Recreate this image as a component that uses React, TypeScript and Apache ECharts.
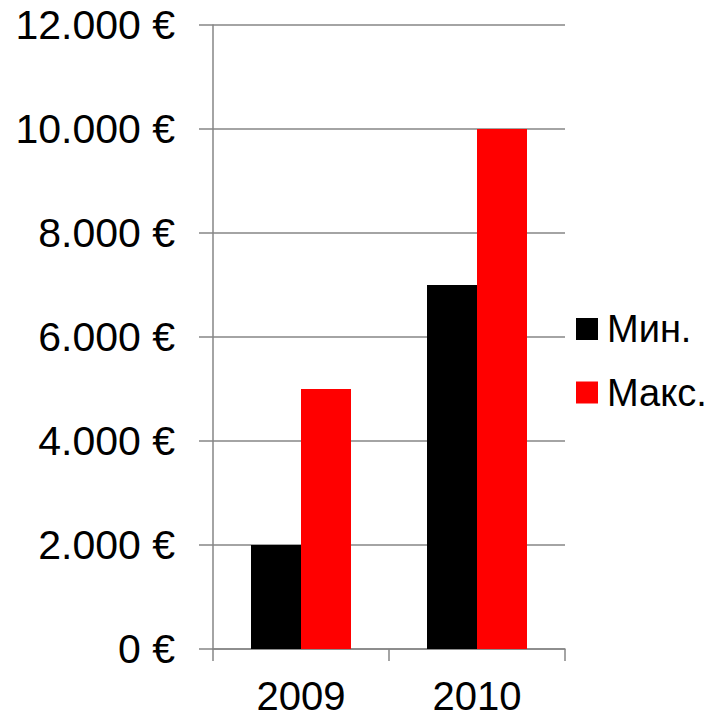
import React, { useEffect, useRef } from "react";
import * as echarts from "echarts";

const categories = ["2009", "2010"];
const minValues = [2000, 7000];
const maxValues = [5000, 10000];
const seriesNames = ["Мин.", "Макс."];

const FONT = "'Liberation Sans', Arial, sans-serif";
const GRAY = "#868686";

function fmt(v: number): string {
  const s = Math.round(v).toString().replace(/\B(?=(\d{3})+(?!\d))/g, ".");
  return s + " €";
}

export default function App() {
  const ref = useRef<HTMLDivElement>(null);
  useEffect(() => {
    if (!ref.current) return;
    const chart = echarts.init(ref.current, undefined, { renderer: "svg" });
    chart.setOption({
      animation: false,
      backgroundColor: "#ffffff",
      textStyle: { fontFamily: FONT },
      grid: { left: 213, right: 150, top: 25, bottom: 69, containLabel: false },
      legend: {
        orient: "vertical",
        left: 576,
        top: 309,
        padding: 0,
        itemWidth: 22,
        itemHeight: 22,
        itemGap: 23.5,
        icon: "rect",
        textStyle: { fontFamily: FONT, fontSize: 38, color: "#000", lineHeight: 40, padding: [0, 0, 0, 4] },
        data: seriesNames,
      },
      xAxis: {
        type: "category",
        data: categories,
        axisLine: { show: true, lineStyle: { color: GRAY, width: 1.5 } },
        axisTick: { show: true, length: 12, lineStyle: { color: GRAY, width: 1.5 } },
        axisLabel: { fontFamily: FONT, fontSize: 40, color: "#000", margin: 27 },
        splitLine: { show: false },
      },
      yAxis: {
        type: "value",
        min: 0,
        max: 12000,
        interval: 2000,
        axisLine: { show: true, lineStyle: { color: GRAY, width: 1.5 } },
        axisTick: { show: true, length: 14, lineStyle: { color: GRAY, width: 1.5 } },
        axisLabel: { fontFamily: FONT, fontSize: 41, color: "#000", margin: 38, formatter: (v: number) => fmt(v) },
        splitLine: { show: true, lineStyle: { color: GRAY, width: 1.5 } },
      },
      series: [
        {
          name: seriesNames[0],
          type: "bar",
          data: minValues,
          barWidth: 50,
          barGap: "0%",
          itemStyle: { color: "#000000" },
        },
        {
          name: seriesNames[1],
          type: "bar",
          data: maxValues,
          barWidth: 50,
          barGap: "0%",
          itemStyle: { color: "#ff0000" },
        },
      ],
    });
    return () => chart.dispose();
  }, []);
  return <div ref={ref} style={{ width: 715, height: 718, position: "absolute", left: 0, top: 0 }} />;
}
